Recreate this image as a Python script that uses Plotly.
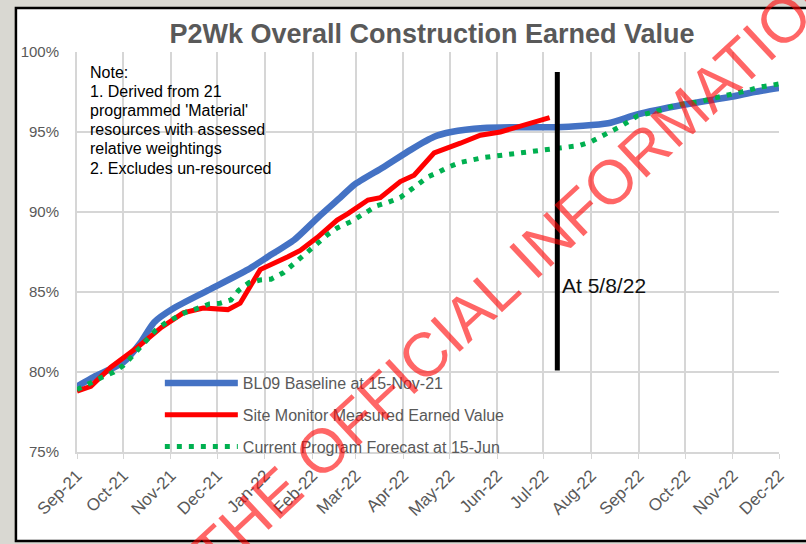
import plotly.graph_objects as go

# Baseline BL09 (% complete)
baseline_dates = ['2021-09-01', '2021-09-12', '2021-10-01', '2021-10-12', '2021-10-21', '2021-11-03',
                  '2021-11-25', '2021-12-21', '2022-01-03', '2022-01-20', '2022-02-05', '2022-02-19',
                  '2022-02-28', '2022-03-19', '2022-04-06', '2022-04-21', '2022-05-02', '2022-05-23',
                  '2022-06-14', '2022-07-10', '2022-08-12', '2022-08-31', '2022-09-30', '2022-10-31',
                  '2022-11-15', '2022-12-01']
baseline_vals = [79.1, 79.7, 80.6, 81.8, 83.1, 84.0,
                 85.1, 86.4, 87.2, 88.25, 89.7, 90.9,
                 91.7, 92.8, 93.9, 94.7, 95.0, 95.25,
                 95.3, 95.3, 95.55, 96.1, 96.7, 97.2,
                 97.5, 97.75]

# Site monitor measured earned value
measured_dates = ['2021-09-01', '2021-09-10', '2021-09-23', '2021-10-11', '2021-10-26', '2021-11-09',
                  '2021-11-22', '2021-12-08', '2021-12-16', '2021-12-29', '2022-01-16', '2022-01-24',
                  '2022-02-04', '2022-02-17', '2022-02-24', '2022-03-09', '2022-03-17', '2022-03-30',
                  '2022-04-08', '2022-04-21', '2022-05-08', '2022-05-21', '2022-06-03', '2022-06-21',
                  '2022-07-05']
measured_vals = [78.8, 79.1, 80.3, 81.6, 82.8, 83.7,
                 84.0, 83.9, 84.3, 86.4, 87.2, 87.6,
                 88.4, 89.5, 89.9, 90.75, 90.9, 91.9,
                 92.3, 93.7, 94.3, 94.8, 95.0, 95.55,
                 95.9]

# Current program forecast at 15-Jun
forecast_dates = ['2021-09-01', '2021-09-11', '2021-09-18', '2021-09-25', '2021-10-01', '2021-10-06',
                  '2021-10-12', '2021-10-22', '2021-10-29', '2021-11-04', '2021-11-11', '2021-11-19',
                  '2021-11-26', '2021-12-03', '2021-12-10', '2021-12-15', '2021-12-22', '2021-12-29',
                  '2022-01-05', '2022-01-13', '2022-01-18', '2022-01-24', '2022-01-31', '2022-02-05',
                  '2022-02-11', '2022-02-17', '2022-02-26', '2022-03-15', '2022-03-22', '2022-03-30',
                  '2022-04-06', '2022-04-11', '2022-04-17', '2022-04-24', '2022-04-30', '2022-05-08',
                  '2022-05-16', '2022-05-23', '2022-05-31', '2022-06-08', '2022-06-15', '2022-06-23',
                  '2022-07-01', '2022-07-09', '2022-07-17', '2022-07-24', '2022-08-01', '2022-08-07',
                  '2022-08-14', '2022-08-21', '2022-08-31', '2022-09-11', '2022-09-26', '2022-10-11',
                  '2022-10-19', '2022-11-04', '2022-11-11', '2022-11-18', '2022-11-26', '2022-12-01']
forecast_vals = [78.9, 79.4, 79.7, 80.0, 80.4, 80.9,
                 81.5, 82.6, 83.1, 83.4, 83.75, 84.0,
                 84.25, 84.3, 84.5, 85.1, 85.6, 85.75,
                 85.8, 86.2, 86.6, 87.1, 87.6, 88.1,
                 88.6, 89.0, 89.4, 90.4, 90.6, 90.9,
                 91.4, 91.8, 92.2, 92.5, 92.8, 93.1,
                 93.3, 93.4, 93.5, 93.6, 93.7, 93.8,
                 93.9, 94.0, 94.1, 94.15, 94.4, 94.7,
                 95.1, 95.4, 96.0, 96.25, 96.7, 96.9,
                 97.1, 97.4, 97.6, 97.8, 97.9, 98.0]

series_names = ['BL09 Baseline at 15-Nov-21',
                'Site Monitor Measured Earned Value',
                'Current Program Forecast at 15-Jun']

status_date = '2022-07-10'
status_label = 'At 5/8/22'
note_lines = ['Note:', '1. Derived from 21', "programmed 'Material'",
              'resources with assessed', 'relative weightings', '2. Excludes un-resourced']
title_text = 'P2Wk Overall Construction Earned Value'
watermark_text = 'THE OFFICIAL INFORMATION'

FONT = 'Liberation Sans, Arial, sans-serif'
GREY = '#595959'
GRID = '#d6d6d6'

fig = go.Figure()

fig.add_trace(go.Scatter(x=baseline_dates, y=baseline_vals, name=series_names[0], mode='lines',
                         line=dict(color='#4472C4', width=6.5, shape='spline', smoothing=0.6),
                         legendgroup='a'))
fig.add_trace(go.Scatter(x=measured_dates, y=measured_vals, name=series_names[1], mode='lines',
                         line=dict(color='#FF0000', width=5), legendgroup='b'))
fig.add_trace(go.Scatter(x=forecast_dates, y=forecast_vals, name=series_names[2], mode='lines',
                         line=dict(color='#00B050', width=5, dash='5px,7px'), legendgroup='c'))

# frame around the chart (photo background outside)
fig.add_shape(type='rect', xref='paper', yref='paper', x0=-0.087, x1=1.06, y0=-0.2225, y1=1.11,
              fillcolor='white', line=dict(color='black', width=2.5), layer='below')

# status date marker
fig.add_shape(type='line', xref='x', yref='y', x0=status_date, x1=status_date, y0=80.1, y1=98.75,
              line=dict(color='black', width=5))
fig.add_annotation(x=status_date, y=85.4, xref='x', yref='y', text=status_label, showarrow=False,
                   xanchor='left', yanchor='middle', xshift=3, font=dict(family=FONT, size=21, color='#111111'))

# note box text, one line per annotation to keep the tight line spacing
for i, line in enumerate(note_lines):
    fig.add_annotation(x=0.015, y=(452 - 72 - 19.2 * i) / 400, xref='paper', yref='paper', text=line,
                       showarrow=False, xanchor='left', yanchor='middle', align='left',
                       font=dict(family=FONT, size=16, color='black'))

# watermark
fig.add_annotation(x=0.627, y=0.46, xref='paper', yref='paper', text=watermark_text, showarrow=False,
                   textangle=-43, font=dict(family=FONT, size=62, color='rgba(255,0,0,0.6)'))

fig.update_xaxes(type='date', range=['2021-09-01', '2022-12-01'], dtick='M1', tick0='2021-09-01',
                 tickformat='%b-%y', tickangle=-45, showgrid=True, gridcolor=GRID, gridwidth=2,
                 showline=True, linecolor=GRID, linewidth=2, ticks='outside', ticklen=5, tickcolor=GRID,
                 tickfont=dict(family=FONT, size=17, color=GREY), zeroline=False)
fig.update_yaxes(range=[75, 100], dtick=5, ticksuffix='%', showgrid=True, gridcolor=GRID, gridwidth=2,
                 showline=True, linecolor=GRID, linewidth=2, ticks='', ticklabelstandoff=13,
                 tickfont=dict(family=FONT, size=15, color=GREY), zeroline=False)

fig.update_layout(
    width=806, height=544,
    margin=dict(l=77, r=27, t=52, b=92),
    paper_bgcolor='#d9d8d2', plot_bgcolor='white',
    title=dict(text=title_text, x=0.536, y=0.939, xanchor='center', yanchor='middle',
               font=dict(family=FONT, size=27, color=GREY, weight='bold')),
    legend=dict(x=0.118, y=0.215, xanchor='left', yanchor='top', bgcolor='rgba(0,0,0,0)',
                traceorder='grouped', tracegroupgap=8, itemwidth=73,
                font=dict(family=FONT, size=16, color=GREY)),
    showlegend=True,
)

fig.write_html('out.html', config={'displayModeBar': False},
               post_script="document.body.style.margin='0';")
